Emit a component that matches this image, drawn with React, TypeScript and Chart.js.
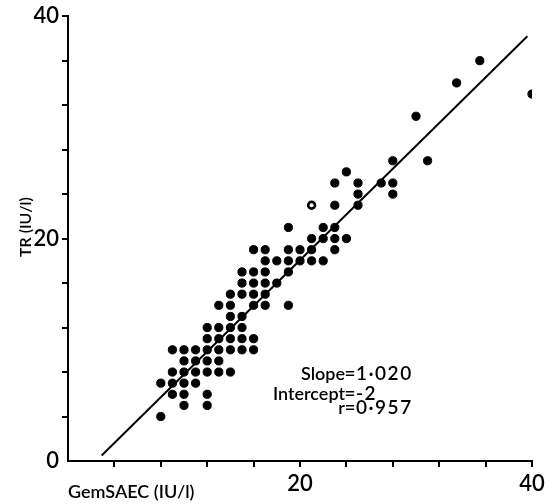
import { useEffect, useRef } from "react";
import { Chart, registerables } from "chart.js";

Chart.register(...registerables);

const W = 560;
const H = 504;
const FONT = "Lato, 'DejaVu Sans', sans-serif";

// GemSAEC (x) and TR (y) values, read row by row (by TR value)
const gemSAEC = [
  8,
  10, 12,
  9, 10, 12,
  8, 9, 10, 11,
  9, 10, 11, 12, 13, 14,
  10, 11, 12, 13,
  9, 10, 11, 12, 13, 14, 15, 16,
  12, 13, 14, 15, 16,
  12, 13, 14, 15,
  14, 15,
  13, 14, 16, 17, 19,
  14, 15, 16, 17,
  15, 16, 17, 18,
  15, 16, 17, 19,
  17, 18, 19, 20, 21, 22,
  16, 17, 19, 20, 21, 23,
  21, 22, 23, 24,
  19, 22, 23,
  23, 25,
  25, 28,
  23, 25, 27, 28,
  24,
  28, 31,
  30,
  40,
  33.5,
  35.5,
];
const tr = [
  4,
  5, 5,
  6, 6, 6,
  7, 7, 7, 7,
  8, 8, 8, 8, 8, 8,
  9, 9, 9, 9,
  10, 10, 10, 10, 10, 10, 10, 10,
  11, 11, 11, 11, 11,
  12, 12, 12, 12,
  13, 13,
  14, 14, 14, 14, 14,
  15, 15, 15, 15,
  16, 16, 16, 16,
  17, 17, 17, 17,
  18, 18, 18, 18, 18, 18,
  19, 19, 19, 19, 19, 19,
  20, 20, 20, 20,
  21, 21, 21,
  23, 23,
  24, 24,
  25, 25, 25, 25,
  26,
  27, 27,
  31,
  33,
  34,
  36,
];
// open circle point
const openGem = [21];
const openTr = [23];

// regression line end points
const lineGem = [2.9, 39.6];
const lineTr = [0.5, 38.2];

const xLabelValues = [20, 40];
const yLabelValues = [0, 20, 40];

const xTitle = "GemSAEC (IU/l)";
const yTitle = "TR (IU/l)";
const statNames = ["Slope", "Intercept", "r"];
const statValues = ["1·020", "-2", "0·957"];

const textPlugin = {
  id: "texts",
  afterDraw(chart: any) {
    const { ctx, chartArea } = chart;
    ctx.save();
    ctx.fillStyle = "#000";
    ctx.font = `600 18px ${FONT}`;
    ctx.textAlign = "left";
    ctx.textBaseline = "alphabetic";
    ctx.fillText(xTitle, chartArea.left, H - 6);

    ctx.save();
    ctx.translate(31, 257);
    ctx.rotate(-Math.PI / 2);
    ctx.font = `600 16px ${FONT}`;
    ctx.textAlign = "left";
    ctx.fillText(yTitle, 0, 0);
    ctx.restore();

    const eqX = 350;
    const baselines = [380, 400, 414];
    statNames.forEach((name, i) => {
      const b = baselines[i];
      ctx.font = `600 18px ${FONT}`;
      (ctx as any).letterSpacing = "0px";
      ctx.textAlign = "right";
      ctx.fillText(name, eqX - 5, b);
      ctx.font = `600 19px ${FONT}`;
      ctx.textAlign = "center";
      ctx.fillText("=", eqX, b);
      ctx.textAlign = "left";
      (ctx as any).letterSpacing = "1.5px";
      ctx.fillText(statValues[i], eqX + 6, b);
      (ctx as any).letterSpacing = "0px";
    });
    ctx.restore();
  },
};

export default function App() {
  const ref = useRef<HTMLCanvasElement>(null);
  useEffect(() => {
    Chart.defaults.font.family = FONT;
    const tickColor = (c: any) =>
      c.tick && c.tick.value === 0 ? "rgba(0,0,0,0)" : "#000";
    const tickFont = { family: FONT, size: 22, weight: 600 as any };
    const chart = new Chart(ref.current as HTMLCanvasElement, {
      type: "scatter",
      data: {
        datasets: [
          {
            data: openGem.map((x, i) => ({ x, y: openTr[i] })),
            backgroundColor: "#fff",
            borderColor: "#000",
            pointRadius: 3.4,
            borderWidth: 2.6,
          },
          {
            data: gemSAEC.map((x, i) => ({ x, y: tr[i] })),
            backgroundColor: "#000",
            borderColor: "#000",
            pointRadius: 4.1,
            borderWidth: 1,
          },
          {
            type: "line",
            data: lineGem.map((x, i) => ({ x, y: lineTr[i] })),
            borderColor: "#000",
            borderWidth: 2,
            pointRadius: 0,
            fill: false,
            tension: 0,
          } as any,
        ],
      },
      options: {
        responsive: false,
        animation: false,
        devicePixelRatio: 1,
        layout: { padding: { left: 0, right: 28, top: 14, bottom: 0 } },
        plugins: {
          legend: { display: false },
          tooltip: { enabled: false },
        },
        scales: {
          x: {
            type: "linear",
            min: 0,
            max: 40,
            afterFit: (s: any) => {
              s.height = 43;
            },
            ticks: {
              stepSize: 4,
              autoSkip: false,
              maxRotation: 0,
              color: "#000",
              padding: 4,
              font: tickFont,
              callback: (v: any) =>
                xLabelValues.includes(Number(v)) ? String(v) : "",
            },
            grid: {
              drawOnChartArea: false,
              drawTicks: true,
              tickLength: 6,
              lineWidth: 2,
              color: tickColor,
            },
            border: { display: true, color: "#000", width: 2 },
          },
          y: {
            type: "linear",
            min: 0,
            max: 40,
            afterFit: (s: any) => {
              s.width = 68;
            },
            ticks: {
              stepSize: 4,
              autoSkip: false,
              color: "#000",
              padding: 3,
              font: tickFont,
              callback: (v: any) =>
                yLabelValues.includes(Number(v)) ? String(v) : "",
            },
            grid: {
              drawOnChartArea: false,
              drawTicks: true,
              tickLength: 6,
              lineWidth: 2,
              color: tickColor,
            },
            border: { display: true, color: "#000", width: 2 },
          },
        },
      },
      plugins: [textPlugin],
    });
    return () => chart.destroy();
  }, []);
  return (
    <div
      style={{
        position: "fixed",
        left: 0,
        top: 0,
        width: W,
        height: H,
        background: "#fff",
      }}
    >
      <canvas ref={ref} width={W} height={H} style={{ display: "block" }} />
    </div>
  );
}
